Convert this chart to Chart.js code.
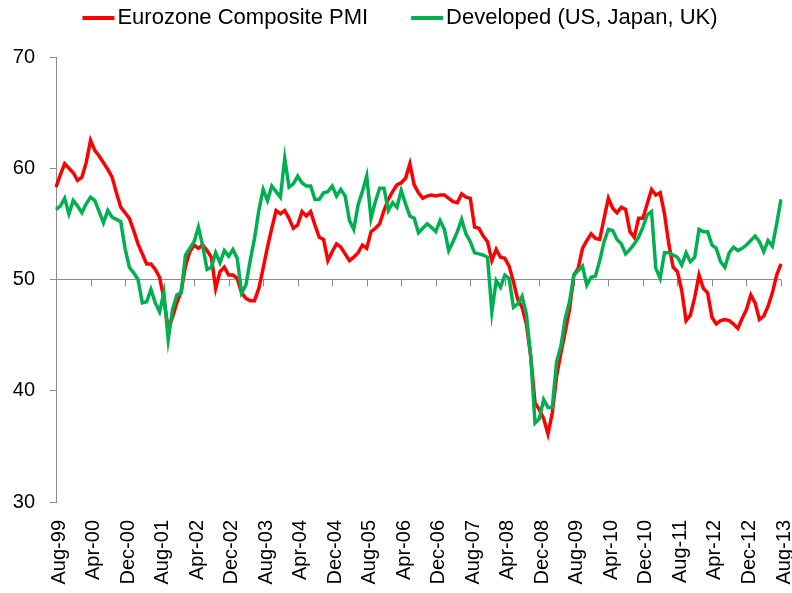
<!DOCTYPE html>
<html>
<head>
<meta charset="utf-8">
<script src="https://cdn.jsdelivr.net/npm/chart.js@4.4.1/dist/chart.umd.min.js"></script>
<style>
html, body { margin:0; padding:0; background:#fff; }
#wrap { width:792px; height:593px; }
</style>
</head>
<body>
<div id="wrap"><canvas id="pmi" width="792" height="593"></canvas></div>
<script>
// meses desde Aug-99 hasta Aug-13
var meses = ["Jan","Feb","Mar","Apr","May","Jun","Jul","Aug","Sep","Oct","Nov","Dec"];
var categorias = [];
for (var k = 0; k < 169; k++) {
	var m = (7 + k) % 12;
	var a = (99 + Math.floor((7 + k) / 12)) % 100;
	categorias.push(meses[m] + "-" + (a < 10 ? "0" + a : "" + a));
}
var pasoEtiquetas = 8;
var ticksY = [30, 40, 50, 60, 70];

var nombres = ["Eurozone Composite PMI", "Developed (US, Japan, UK)"];

var eurozona = [
	58.3,59.4,60.4,60.0,59.6,58.9,59.2,60.5,62.5,61.6,61.1,60.5,59.9,59.2,57.8,56.5,56.0,55.5,54.4,53.2,
	52.3,51.4,51.4,50.9,50.2,48.3,45.5,46.6,47.9,48.9,51.2,52.5,53.1,52.8,53.1,52.6,52.0,49.2,50.7,51.1,
	50.4,50.4,50.1,48.8,48.3,48.1,48.1,49.2,51.0,52.9,54.6,56.2,55.9,56.2,55.5,54.6,54.9,56.1,55.7,56.1,
	54.9,53.8,53.6,51.7,52.5,53.2,52.9,52.3,51.7,52.0,52.4,53.1,52.8,54.3,54.6,55.0,56.2,57.2,57.9,58.5,
	58.7,59.1,60.4,58.5,57.8,57.3,57.5,57.6,57.5,57.6,57.6,57.3,57.0,56.9,57.7,57.4,57.3,54.7,54.6,53.9,
	53.4,51.7,52.7,52.0,51.9,51.2,49.8,48.2,47.5,46.0,43.1,38.9,38.3,37.5,36.1,38.0,41.3,43.4,45.3,47.3,
	50.4,51.0,52.8,53.5,54.1,53.7,53.6,55.5,57.3,56.4,56.0,56.5,56.3,54.3,53.8,55.5,55.5,56.8,58.1,57.6,
	57.8,55.9,53.2,51.1,50.7,49.0,46.3,46.8,48.4,50.4,49.2,48.8,46.6,46.0,46.3,46.4,46.3,46.0,45.6,46.5,
	47.3,48.6,47.9,46.4,46.7,47.6,48.8,50.4,51.4
];

var desarrollados = [
	56.3,56.6,57.3,55.9,57.1,56.6,56.0,56.8,57.4,57.1,56.1,55.1,56.2,55.6,55.4,55.2,52.8,51.1,50.6,50.0,
	47.9,48.0,49.1,47.9,47.1,48.8,44.6,47.3,48.6,48.8,52.2,52.8,53.4,54.7,53.0,50.9,51.1,52.4,51.5,52.6,
	52.1,52.7,51.9,48.8,49.5,51.7,53.7,56.2,58.1,57.1,58.4,57.9,57.4,60.9,58.3,58.6,59.3,58.7,58.4,58.4,
	57.2,57.2,57.8,57.9,58.4,57.5,58.1,57.5,55.3,54.5,56.7,57.9,59.3,55.5,57.0,58.2,58.2,56.2,56.9,56.5,
	58.0,56.8,55.7,55.5,54.2,54.6,55.0,54.7,54.3,55.3,54.5,52.6,53.4,54.3,55.4,54.1,53.4,52.4,52.3,52.2,
	52.0,47.1,49.9,49.3,50.4,50.1,47.5,47.8,48.5,46.9,43.1,37.1,37.5,39.2,38.5,38.5,42.6,44.0,46.5,48.0,
	50.4,50.8,51.2,49.5,50.2,50.3,51.7,53.4,54.5,54.4,53.6,53.2,52.3,52.7,53.2,53.8,54.7,55.8,56.1,51.0,
	50.1,52.4,52.4,52.2,52.0,51.3,52.4,51.6,52.0,54.5,54.3,54.3,53.1,52.8,51.6,51.1,52.4,52.9,52.6,52.8,
	53.1,53.5,53.9,53.4,52.5,53.5,53.0,55.0,57.2
];

var fuente = '"Liberation Sans", Arial, sans-serif';
var gris = "#8c8c8c";

// marcas del eje X sobre la linea de 50
var marcasEje = {
	id: "marcasEje",
	beforeDatasetsDraw: function(chart) {
		var ctx = chart.ctx;
		var xs = chart.scales.x, ys = chart.scales.y;
		var y0 = ys.getPixelForValue(50);
		ctx.save();
		ctx.strokeStyle = gris;
		ctx.lineWidth = 1;
		for (var i = 0; i < categorias.length; i += pasoEtiquetas) {
			var x = Math.round(xs.getPixelForValue(i)) + 0.5;
			ctx.beginPath();
			ctx.moveTo(x, y0);
			ctx.lineTo(x, y0 + 7);
			ctx.stroke();
		}
		ctx.restore();
	}
};

// leyenda arriba, linea corta + texto
var leyenda = {
	id: "leyenda",
	afterDraw: function(chart) {
		var ctx = chart.ctx;
		var ds = chart.data.datasets;
		ctx.save();
		ctx.font = "22px " + fuente;
		ctx.textBaseline = "middle";
		var largo = 32, hueco = 3, sep = 43;
		var total = 0;
		for (var i = 0; i < ds.length; i++) {
			total += largo + hueco + ctx.measureText(ds[i].label).width;
			if (i > 0) total += sep;
		}
		var x = 400 - total / 2;
		var y = 18;
		for (var i = 0; i < ds.length; i++) {
			ctx.strokeStyle = ds[i].borderColor;
			ctx.lineWidth = 4;
			ctx.beginPath();
			ctx.moveTo(x, y);
			ctx.lineTo(x + largo, y);
			ctx.stroke();
			ctx.fillStyle = "#000";
			ctx.fillText(ds[i].label, x + largo + hueco, y);
			x += largo + hueco + ctx.measureText(ds[i].label).width + sep;
		}
		ctx.restore();
	}
};

var ctx = document.getElementById("pmi").getContext("2d");
var chart = new Chart(ctx, {
	type: "line",
	data: {
		labels: categorias,
		datasets: [{
			label: nombres[0],
			data: eurozona,
			borderColor: "#ff0000",
			borderWidth: 3.5,
			pointRadius: 0,
			tension: 0,
			order: 1
		}, {
			label: nombres[1],
			data: desarrollados,
			borderColor: "#00b050",
			borderWidth: 3.5,
			pointRadius: 0,
			tension: 0,
			order: 0
		}]
	},
	options: {
		responsive: false,
		animation: false,
		layout: { padding: { top: 57, right: 11, bottom: 0, left: 0 } },
		plugins: {
			legend: { display: false },
			tooltip: { enabled: false }
		},
		scales: {
			x: {
				type: "category",
				offset: false,
				grid: { display: false, drawTicks: false },
				border: { display: false },
				ticks: {
					autoSkip: false,
					minRotation: 90,
					maxRotation: 90,
					padding: 18,
					labelOffset: 3,
					color: "#000",
					font: { family: fuente, size: 20 },
					callback: function(val, idx) {
						return idx % pasoEtiquetas === 0 ? categorias[idx] : null;
					}
				},
				afterFit: function(s) {
					s.height = 91;
					s.paddingLeft = 0;
					s.paddingRight = 0;
				}
			},
			y: {
				min: 30,
				max: 70,
				afterBuildTicks: function(s) {
					s.ticks = ticksY.map(function(v) { return { value: v }; });
				},
				grid: {
					drawTicks: true,
					tickLength: 6,
					tickColor: gris,
					color: function(c) { return c.tick && c.tick.value === 50 ? gris : "rgba(0,0,0,0)"; }
				},
				border: { display: true, color: gris, width: 1 },
				ticks: {
					padding: 15,
					color: "#000",
					font: { family: fuente, size: 20 }
				},
				afterFit: function(s) {
					s.width = 56;
					s.paddingTop = 0;
					s.paddingBottom = 0;
				}
			}
		}
	},
	plugins: [marcasEje, leyenda]
});
</script>
</body>
</html>
